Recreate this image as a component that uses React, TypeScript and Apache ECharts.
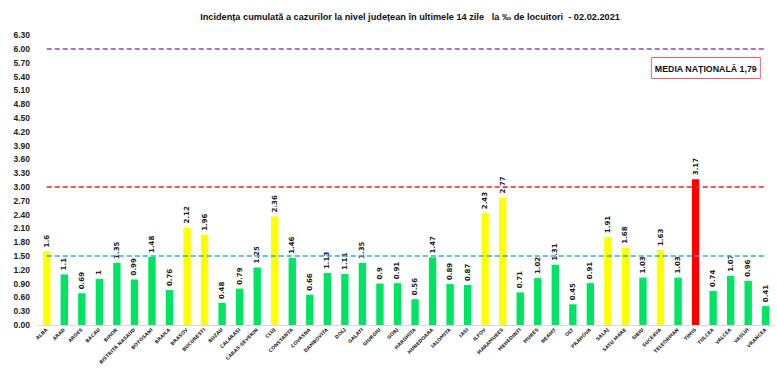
import React, { useEffect, useRef } from "react";
import * as echarts from "echarts";

const judete = [
  "ALBA", "ARAD", "ARGES", "BACAU", "BIHOR", "BISTRITA NASAUD", "BOTOSANI", "BRAILA", "BRASOV", "BUCURESTI",
  "BUZAU", "CALARASI", "CARAS-SEVERIN", "CLUJ", "CONSTANTA", "COVASNA", "DAMBOVITA", "DOLJ", "GALATI", "GIURGIU",
  "GORJ", "HARGHITA", "HUNEDOARA", "IALOMITA", "IASI", "ILFOV", "MARAMURES", "MEHEDINTI", "MURES", "NEAMT",
  "OLT", "PRAHOVA", "SALAJ", "SATU MARE", "SIBIU", "SUCEAVA", "TELEORMAN", "TIMIS", "TULCEA", "VALCEA",
  "VASLUI", "VRANCEA",
];

const incidenta = [
  1.6, 1.1, 0.69, 1, 1.35, 0.99, 1.48, 0.76, 2.12, 1.96,
  0.48, 0.79, 1.25, 2.36, 1.46, 0.66, 1.13, 1.11, 1.35, 0.9,
  0.91, 0.56, 1.47, 0.89, 0.87, 2.43, 2.77, 0.71, 1.02, 1.31,
  0.45, 0.91, 1.91, 1.68, 1.03, 1.63, 1.03, 3.17, 0.74, 1.07,
  0.96, 0.41,
];

const pragValori = [1.5, 3.0, 6.0];
const pragCulori = ["#2aa9dc", "#ee1c25", "#8e44ad"];

const mediaNationala = "MEDIA NAȚIONALĂ 1,79";
const titlu = "Incidența cumulată a cazurilor la nivel județean în ultimele 14 zile   la ‰ de locuitori  - 02.02.2021";

function barColor(v: number) {
  if (v > 3) return "#ff0000";
  if (v > 1.5) return "#ffff00";
  return "#00e464";
}

export default function App() {
  const ref = useRef<HTMLDivElement>(null);
  useEffect(() => {
    if (!ref.current) return;
    const chart = echarts.init(ref.current, null, { renderer: "svg" });
    const last = judete.length - 1;
    chart.setOption({
      animation: false,
      backgroundColor: "#ffffff",
      title: [
        {
          text: titlu,
          left: 405,
          textAlign: "center",
          top: 7,
          textStyle: {
            fontFamily: "Liberation Sans, Arial, sans-serif",
            fontWeight: "bold",
            fontSize: 9.2,
            color: "#111",
          },
        },
        {
          text: mediaNationala,
          right: 16,
          top: 57,
          borderColor: "#e8606a",
          borderWidth: 1,
          padding: [7, 4, 6, 4],
          textStyle: {
            fontFamily: "Liberation Sans, Arial, sans-serif",
            fontWeight: "bold",
            fontSize: 8.8,
            color: "#111",
          },
        },
      ],
      grid: { left: 38, right: 2.5, top: 35.2, bottom: 47, containLabel: false },
      xAxis: {
        type: "category",
        data: judete,
        axisLine: { show: true, lineStyle: { color: "#d9d9d9", width: 1 } },
        axisTick: { show: false },
        axisLabel: {
          interval: 0,
          rotate: 45,
          fontSize: 4.8,
          fontWeight: "bold",
          fontFamily: "DejaVu Sans, Verdana, sans-serif",
          color: "#333",
          margin: 4,
        },
      },
      yAxis: {
        type: "value",
        min: 0,
        max: 6.3,
        interval: 0.3,
        axisLine: { show: false },
        axisTick: { show: false },
        splitLine: { show: false },
        axisLabel: {
          formatter: (v: number) => v.toFixed(2),
          fontSize: 8.5,
          fontWeight: "bold",
          fontFamily: "Liberation Sans, Arial, sans-serif",
          color: "#222",
          margin: 8,
        },
      },
      series: [
        {
          type: "bar",
          barWidth: "42%",
          data: incidenta.map((v) => ({ value: v, itemStyle: { color: barColor(v) } })),
          label: {
            show: true,
            position: "top",
            rotate: 90,
            align: "left",
            verticalAlign: "middle",
            distance: 4,
            formatter: (p: any) => String(p.value),
            fontSize: 7,
            fontWeight: "bold",
            fontFamily: "DejaVu Sans, Verdana, sans-serif",
            color: "#222",
          },
          markLine: {
            silent: true,
            symbol: ["none", "none"],
            label: { show: false },
            lineStyle: { type: "dashed", width: 1.5 },
            data: pragValori.map((v, i) => [
              { coord: [0, v], lineStyle: { color: pragCulori[i], type: [5, 3], width: 1.5 } },
              { coord: [last, v] },
            ]),
          },
        },
      ],
    });
    return () => chart.dispose();
  }, []);
  return <div ref={ref} style={{ width: 777, height: 372, position: "absolute", left: 0, top: 0 }} />;
}
